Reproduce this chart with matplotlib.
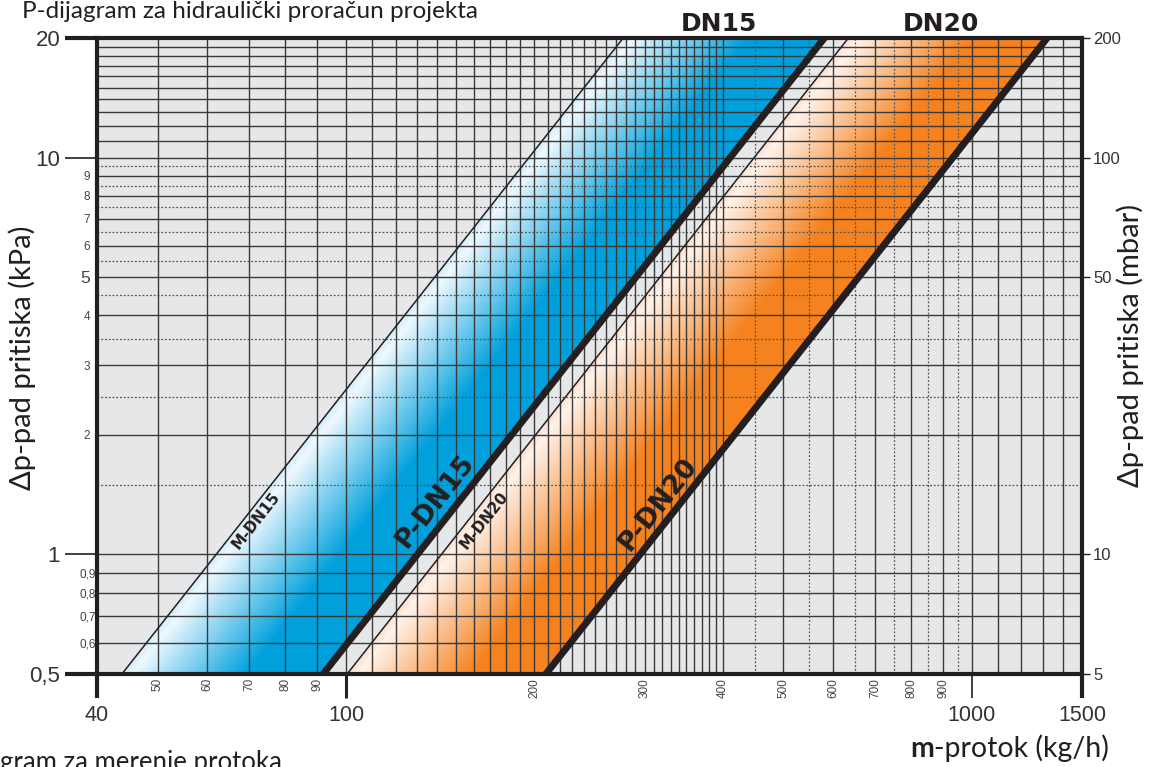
import numpy as np
import matplotlib
matplotlib.use('Agg')
import matplotlib.pyplot as plt
from matplotlib.colors import LinearSegmentedColormap
from matplotlib.ticker import NullLocator
from matplotlib.transforms import blended_transform_factory

plt.rcParams['font.family'] = ['Liberation Sans', 'DejaVu Sans']

# --- podaci: protok (kg/h) pri padu pritiska od 1 kPa za svaku krivu ---
krive = ['M-DN15', 'P-DN15', 'M-DN20', 'P-DN20']
protok_1kpa = [62, 130, 142, 295]
debljina = [1.1, 5.0, 1.1, 5.0]

# natpisi na krivama (m u kg/h, dp u kPa)
natpis_m = [71.8, 138.8, 166, 315]
natpis_dp = [1.22, 1.36, 1.22, 1.335]
natpis_vel = [11, 19, 11, 19]

# natpisi kolona iznad dijagrama
kolone = ['DN15', 'DN20']
kolone_m = [395, 891]

# ose
x_glavne = [40, 100, 1000, 1500]
x_sporedne = [50, 60, 70, 80, 90, 200, 300, 400, 500, 600, 700, 800, 900]
y_glavne = [0.5, 1, 10, 20]
y_glavne_txt = ['0,5', '1', '10', '20']
y_sporedne = [0.6, 0.7, 0.8, 0.9, 2, 3, 4, 5, 6, 7, 8, 9]
y_sporedne_txt = ['0,6', '0,7', '0,8', '0,9', '2', '3', '4', '5', '6', '7', '8', '9']
mbar = [5, 10, 50, 100, 200]

# mreza
h_pune = [0.6, 0.7, 0.8, 0.9, 1, 2, 3, 4, 5, 6, 7, 8, 9, 10] + list(range(11, 20))
h_tacke = [1.5, 2.5, 3.5, 4.5, 5.5, 6.5, 7.5, 8.5, 9.5]
v_pune = ([50, 60, 70, 80, 90] + list(range(100, 400, 10)) + [400, 500, 600, 700, 800, 900]
          + [1000, 1100, 1200, 1300, 1400])
v_tacke = [450, 550, 650, 750, 850, 950]

CRNA = '#231f20'

fig = plt.figure(figsize=(11.49, 7.67), dpi=100)
ax = fig.add_axes([97/1149, 93/767, 985/1149, 636/767])
ax.set_xscale('log')
ax.set_yscale('log')
ax.set_xlim(40, 1500)
ax.set_ylim(0.5, 20)
ax.set_facecolor('#e6e7e8')

# --- obojeni pojasevi sa prelazom ---
plava = LinearSegmentedColormap.from_list('plava', [(0, '#d4ecf9'), (0.05, '#eef8fe'),
                                                    (0.62, '#00a0dc'), (1, '#00a0dc')])
narandz = LinearSegmentedColormap.from_list('narandz', [(0, '#fde0cf'), (0.05, '#fff2ea'),
                                                        (0.62, '#f5821f'), (1, '#f5821f')])
mm, pp = np.meshgrid(np.geomspace(40, 1500, 900), np.geomspace(0.5, 20, 600))
k = np.log10(mm) - 0.5 * np.log10(pp)
for a, b, cm in [(0, 1, plava), (2, 3, narandz)]:
    ka, kb = np.log10(protok_1kpa[a]), np.log10(protok_1kpa[b])
    t = (k - ka) / (kb - ka)
    t = np.ma.masked_outside(t, 0, 1)
    ax.pcolormesh(mm, pp, t, cmap=cm, vmin=0, vmax=1, shading='auto', zorder=1)

# --- mreza ---
ax.hlines(h_pune, 40, 1500, color='#3a3a3a', lw=1.0, zorder=2)
ax.hlines(h_tacke, 40, 1500, color='#555555', lw=0.9, linestyles=(0, (1.5, 1.5)), zorder=2)
ax.vlines(v_pune, 0.5, 20, color='#3a3a3a', lw=1.0, zorder=2)
ax.vlines(v_tacke, 0.5, 20, color='#555555', lw=0.9, linestyles=(0, (1.5, 1.5)), zorder=2)

# --- krive ---
m_line = np.geomspace(30, 2000, 300)
for m1, lw in zip(protok_1kpa, debljina):
    ax.plot(m_line, (m_line / m1) ** 2, color=CRNA, lw=lw, zorder=4, solid_capstyle='butt')

# ugao natpisa prema nagibu krive na ekranu
p1 = ax.transData.transform((100, (100 / protok_1kpa[0]) ** 2))
p2 = ax.transData.transform((200, (200 / protok_1kpa[0]) ** 2))
ugao = np.degrees(np.arctan2(p2[1] - p1[1], p2[0] - p1[0]))
for naziv, m, dp, vel in zip(krive, natpis_m, natpis_dp, natpis_vel):
    ax.text(m, dp, naziv, rotation=ugao, rotation_mode='anchor', ha='center', va='center',
            fontsize=vel, fontweight='bold', family='DejaVu Sans', color=CRNA, zorder=5)

trans = blended_transform_factory(ax.transData, ax.transAxes)
for naziv, m in zip(kolone, kolone_m):
    ax.text(m, 1.022, naziv, transform=trans, ha='center', va='center', fontsize=18,
            fontweight='bold', family='DejaVu Sans', color=CRNA, clip_on=False)

# --- okvir ---
for s in ax.spines.values():
    s.set_linewidth(3)
    s.set_color(CRNA)
    s.set_zorder(6)

# --- x osa ---
ax.set_xticks(x_glavne, [str(v) for v in x_glavne])
ax.set_xticks(x_sporedne, [str(v) for v in x_sporedne], minor=True)
ax.tick_params(axis='x', which='major', length=17, width=1.2, pad=5, labelsize=15.5,
               color=CRNA, labelcolor='#333333')
ax.tick_params(axis='x', which='minor', length=0, pad=3, labelsize=8.5, labelrotation=90,
               labelcolor='#444444')
for tick, w in zip(ax.xaxis.get_major_ticks(), [3, 2.2, 1.2, 3]):
    tick.tick1line.set_markeredgewidth(w)

# --- y osa (kPa) ---
ax.set_yticks(y_glavne, y_glavne_txt)
ax.set_yticks(y_sporedne, y_sporedne_txt, minor=True)
ax.tick_params(axis='y', which='major', length=23, width=1.2, pad=3.5, labelsize=16,
               color=CRNA, labelcolor='#333333')
ax.tick_params(axis='y', which='minor', length=0, pad=5, labelsize=8.5, labelcolor='#444444')
for tick, w in zip(ax.yaxis.get_major_ticks(), [3, 1.2, 1.2, 3]):
    tick.tick1line.set_markeredgewidth(w)
for tick, txt in zip(ax.yaxis.get_minor_ticks(), y_sporedne_txt):
    if ',' in txt:
        tick.set_pad(1)
    if txt == '5':
        tick.label1.set_fontsize(12.5)

# --- desna osa (mbar) ---
ax2 = ax.twinx()
ax2.set_yscale('log')
ax2.set_ylim(5, 200)
ax2.set_yticks(mbar, [str(v) for v in mbar])
ax2.yaxis.set_minor_locator(NullLocator())
ax2.tick_params(axis='y', length=6, width=1, pad=2, labelsize=12, color=CRNA, labelcolor='#333333')
for s in ax2.spines.values():
    s.set_visible(False)

# --- tekstovi ---
lato = ['Lato', 'DejaVu Sans']
fig.text(22/1149, 1 - 18/767, 'P-dijagram za hidraulički proračun projekta', family=lato,
         fontsize=17.5, color=CRNA, va='baseline', ha='left')
# naslov donjeg dijagrama, odsecen ivicom slike kao u originalu
fig.text(0, 1 - 770/767, 'gram za merenje protoka', family=lato, fontsize=18.5,
         color=CRNA, va='baseline', ha='left')
fig.text(22/1149, 1 - 358/767, 'Δp-pad pritiska (kPa)', family=lato, fontsize=21,
         color=CRNA, rotation=90, ha='center', va='center')
fig.text(1130/1149, 1 - 345/767, 'Δp-pad pritiska (mbar)', family=lato, fontsize=21,
         color=CRNA, rotation=90, ha='center', va='center')
m_txt = fig.text(910/1149, 1 - 757/767, 'm', family=lato, fontsize=20.5, fontweight='bold',
                 color=CRNA, va='baseline', ha='left')
ax.annotate('-protok (kg/h)', xy=(1, 0), xycoords=m_txt, va='bottom', ha='left',
            family=lato, fontsize=20.5, color=CRNA, annotation_clip=False)

fig.savefig('out.png', dpi=100, facecolor='white')
